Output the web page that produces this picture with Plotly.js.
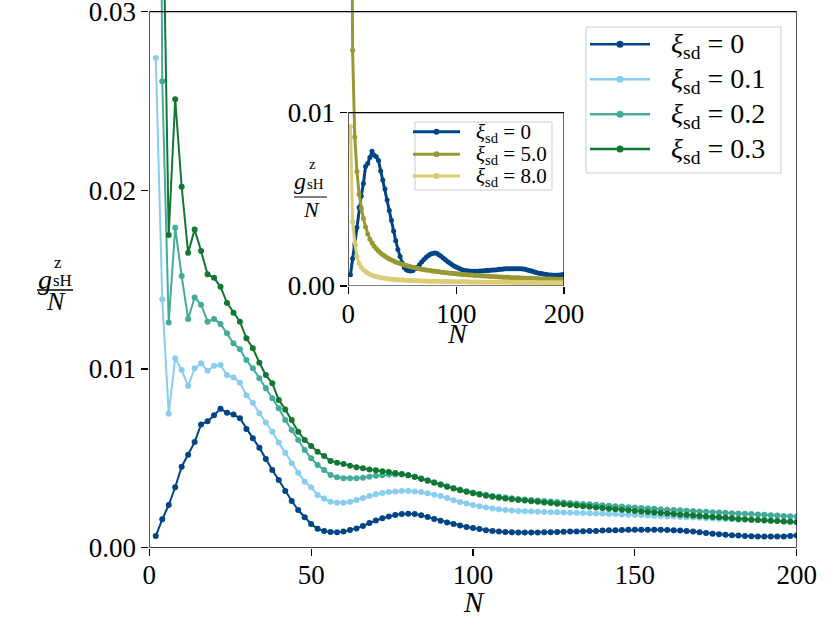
<!DOCTYPE html>
<html>
<head>
<meta charset="utf-8">
<script src="https://cdn.plot.ly/plotly-3.0.1.min.js"></script>
<style>body{margin:0;background:#fff}</style>
</head>
<body>
<div id="chart" style="width:830px;height:623px"></div>
<script>
var W = 830, H = 623;

var N = [2,4,6,8,10,12,14,16,18,20,
	22,24,26,28,30,32,34,36,38,40,
	42,44,46,48,50,52,54,56,58,60,
	62,64,66,68,70,72,74,76,78,80,
	82,84,86,88,90,92,94,96,98,100,
	102,104,106,108,110,112,114,116,118,120,
	122,124,126,128,130,132,134,136,138,140,
	142,144,146,148,150,152,154,156,158,160,
	162,164,166,168,170,172,174,176,178,180,
	182,184,186,188,190,192,194,196,198,200];

var xi0 = [0.00065,0.00159,0.00239,0.00338,0.00453,0.0052,0.00591,0.0069,0.00707,0.00741,
	0.00778,0.00755,0.00746,0.00724,0.00664,0.00612,0.0056,0.00496,0.00435,0.00379,
	0.00317,0.00261,0.00211,0.0017,0.00133,0.00106,0.00093,0.00088,0.00086,0.0009,
	0.00099,0.00108,0.00122,0.00138,0.00152,0.00165,0.00175,0.00183,0.00188,0.0019,
	0.00189,0.00181,0.00172,0.00161,0.00151,0.00141,0.00132,0.00124,0.00116,0.0011,
	0.00104,0.00098,0.00093,0.0009,0.00088,0.00086,0.00085,0.00085,0.00085,0.00085,
	0.00086,0.00087,0.00088,0.00089,0.0009,0.00091,0.00092,0.00093,0.00094,0.00096,
	0.00097,0.00098,0.00099,0.001,0.001,0.001,0.001,0.001,0.001,0.00099,
	0.00098,0.00096,0.00093,0.0009,0.00086,0.00082,0.00078,0.00075,0.00072,0.0007,
	0.00068,0.00066,0.00064,0.00063,0.00062,0.00062,0.00062,0.00063,0.00065,0.00068];

var xi1 = [0.0274,0.0139,0.0075,0.0106,0.00994,0.00905,0.01004,0.01032,0.0099,0.01018,
	0.01022,0.00966,0.00953,0.00923,0.00853,0.00811,0.00752,0.007,0.00649,0.00588,
	0.00532,0.00472,0.0042,0.00369,0.00338,0.00295,0.00276,0.00257,0.00252,0.00252,
	0.00257,0.00267,0.00278,0.0029,0.00299,0.00306,0.00312,0.00315,0.00317,0.00317,
	0.00315,0.00311,0.00305,0.00297,0.00289,0.00278,0.00266,0.00256,0.00247,0.00239,
	0.00232,0.00225,0.0022,0.00215,0.00211,0.00208,0.00206,0.00204,0.00202,0.00201,
	0.002,0.00199,0.00198,0.00197,0.00196,0.00195,0.00194,0.00193,0.00192,0.00191,
	0.00189,0.00188,0.00186,0.00185,0.00183,0.00182,0.0018,0.00179,0.00177,0.00175,
	0.00174,0.00172,0.0017,0.00169,0.00167,0.00165,0.00164,0.00162,0.0016,0.00159,
	0.00157,0.00156,0.00154,0.00153,0.00151,0.0015,0.00149,0.00147,0.00146,0.00145];

var xi2 = [0.085,0.0261,0.0126,0.0179,0.0152,0.0128,0.014,0.0136,0.01265,0.0128,
	0.01252,0.012,0.01144,0.0111,0.0105,0.01004,0.00948,0.00892,0.00836,0.0078,
	0.00715,0.00659,0.00603,0.00547,0.005,0.00463,0.00435,0.00407,0.00394,0.00389,
	0.00388,0.00389,0.00392,0.00397,0.00402,0.00406,0.00409,0.0041,0.00409,0.00405,
	0.00398,0.00388,0.00377,0.00366,0.00355,0.00344,0.00334,0.00325,0.00316,0.00309,
	0.00302,0.00296,0.0029,0.00285,0.00281,0.00277,0.00273,0.0027,0.00267,0.00264,
	0.00261,0.00258,0.00256,0.00253,0.0025,0.00248,0.00245,0.00243,0.0024,0.00238,
	0.00235,0.00232,0.0023,0.00227,0.00225,0.00222,0.0022,0.00218,0.00215,0.00213,
	0.00211,0.00209,0.00207,0.00205,0.00203,0.00201,0.00199,0.00197,0.00195,0.00193,
	0.00191,0.0019,0.00188,0.00186,0.00184,0.00182,0.0018,0.00178,0.00176,0.00174];

var xi3 = [0.06,0.038,0.0175,0.0251,0.0202,0.0165,0.0178,0.0166,0.0153,0.0151,
	0.0146,0.0137,0.01315,0.01265,0.01172,0.01116,0.01035,0.00966,0.0092,0.00827,
	0.00774,0.00715,0.00649,0.00603,0.00569,0.00537,0.00513,0.00485,0.00476,0.00468,
	0.00458,0.0045,0.00444,0.00438,0.00433,0.00428,0.00423,0.00418,0.00413,0.00406,
	0.00396,0.00385,0.00374,0.00363,0.00352,0.00341,0.00331,0.00322,0.00313,0.00305,
	0.00298,0.00291,0.00285,0.0028,0.00275,0.00271,0.00267,0.00264,0.0026,0.00257,
	0.00253,0.0025,0.00246,0.00243,0.00239,0.00236,0.00232,0.00229,0.00225,0.00222,
	0.00218,0.00215,0.00212,0.00209,0.00206,0.00203,0.002,0.00197,0.00194,0.00191,
	0.00188,0.00185,0.00183,0.0018,0.00177,0.00175,0.00172,0.0017,0.00168,0.00165,
	0.00161,0.00159,0.00157,0.00155,0.00153,0.00151,0.00149,0.00147,0.00145,0.00143];

var xi5 = [0.04,0.0136,0.0086,0.0066,0.0053,0.0045,0.0039,0.0034,0.003,0.0027,
	0.00248,0.0023,0.00215,0.00202,0.0019,0.0018,0.00171,0.00163,0.00156,0.0015,
	0.00144,0.00139,0.00134,0.0013,0.00125,0.00121,0.00118,0.00114,0.00111,0.00108,
	0.00105,0.00102,0.001,0.00097,0.00095,0.00093,0.00091,0.00089,0.00087,0.00085,
	0.00083,0.00082,0.0008,0.00079,0.00077,0.00076,0.00074,0.00073,0.00072,0.0007,
	0.00069,0.00068,0.00067,0.00066,0.00065,0.00064,0.00063,0.00062,0.00061,0.0006,
	0.00059,0.00058,0.00058,0.00057,0.00056,0.00055,0.00055,0.00054,0.00053,0.00052,
	0.00052,0.00051,0.0005,0.0005,0.00049,0.00048,0.00048,0.00047,0.00047,0.00046,
	0.00046,0.00045,0.00045,0.00044,0.00044,0.00043,0.00043,0.00042,0.00042,0.00041,
	0.00041,0.00041,0.0004,0.0004,0.0004,0.00039,0.00039,0.00039,0.00038,0.00038];

var xi8 = [0.0092,0.0037,0.0025,0.0017,0.0013,0.00108,0.00094,0.00083,0.00075,0.00068,
	0.00062,0.00058,0.00054,0.00051,0.00048,0.00046,0.00044,0.00042,0.0004,0.00039,
	0.00038,0.00037,0.00036,0.00035,0.00034,0.00034,0.00033,0.00032,0.00032,0.00031,
	0.00031,0.0003,0.0003,0.00029,0.00029,0.00029,0.00028,0.00028,0.00028,0.00027,
	0.00027,0.00027,0.00026,0.00026,0.00026,0.00026,0.00025,0.00025,0.00025,0.00025,
	0.00024,0.00024,0.00024,0.00024,0.00024,0.00023,0.00023,0.00023,0.00023,0.00023,
	0.00023,0.00022,0.00022,0.00022,0.00022,0.00022,0.00022,0.00022,0.00021,0.00021,
	0.00021,0.00021,0.00021,0.00021,0.00021,0.00021,0.0002,0.0002,0.0002,0.0002,
	0.0002,0.0002,0.0002,0.0002,0.0002,0.0002,0.0002,0.00019,0.00019,0.00019,
	0.00019,0.00019,0.00019,0.00019,0.00019,0.00019,0.00019,0.00019,0.00019,0.00019];

var mainLabels = ['0', '0.1', '0.2', '0.3'];
var mainColors = ['#004488', '#88CCEE', '#44AA99', '#117733'];
var insetLabels = ['0', '5.0', '8.0'];
var insetColors = ['#004488', '#999933', '#DDCC77'];
var xTicksMain = [0, 50, 100, 150, 200];
var yTicksMain = [0, 0.01, 0.02, 0.03];
var xTicksInset = [0, 100, 200];
var yTicksInset = [0, 0.01];

var FONT = 'Liberation Serif, DejaVu Serif, serif';

// pixel -> paper
function fx(p){ return p / W; }
function fy(p){ return 1 - p / H; }

function xiName(v){
	return '<i>ξ</i><sub>sd</sub> = ' + v;
}

function series(y, color, name, inset){
	return {
		type: 'scatter',
		mode: 'lines+markers',
		x: N,
		y: y,
		name: xiName(name),
		xaxis: inset ? 'x2' : 'x',
		yaxis: inset ? 'y2' : 'y',
		line: {color: color, width: inset ? 3 : 2},
		marker: {color: color, size: inset ? 5 : 6},
		hoverinfo: 'skip'
	};
}

var data = [
	series(xi0, mainColors[0], mainLabels[0], false),
	series(xi1, mainColors[1], mainLabels[1], false),
	series(xi2, mainColors[2], mainLabels[2], false),
	series(xi3, mainColors[3], mainLabels[3], false),
	series(xi0, insetColors[0], insetLabels[0], true),
	series(xi5, insetColors[1], insetLabels[1], true),
	series(xi8, insetColors[2], insetLabels[2], true)
];

function axis(dom, range, ticks, anchor, fmt, standoff){
	var a = {
		domain: dom,
		range: range,
		tickvals: ticks,
		ticks: 'outside',
		ticklen: 7,
		tickwidth: 1.2,
		tickcolor: '#000',
		showgrid: false,
		zeroline: false,
		showline: false,
		anchor: anchor,
		fixedrange: true,
		ticklabeloverflow: 'allow',
		ticklabelstandoff: standoff || 0,
		tickfont: {family: FONT, size: 27, color: '#000'}
	};
	if(fmt) a.tickformat = fmt;
	return a;
}

function label(text, x, y, size, anchor){
	return {
		text: text, xref: 'paper', yref: 'paper',
		x: fx(x), y: fy(y), showarrow: false,
		xanchor: anchor || 'center', yanchor: 'middle',
		font: {family: FONT, size: size, color: '#000'}
	};
}

var annotations = [
	label('<i>N</i>', 474, 602, 29),
	label('<i>N</i>', 457, 333, 28),
	label('<i>g</i>', 45, 279, 28),
	label('z', 52, 262, 17, 'left'),
	label('sH', 51, 280, 17, 'left'),
	label('<i>N</i>', 56, 302, 26),
	label('<i>g</i>', 300, 181, 24),
	label('z', 307, 164, 15, 'left'),
	label('sH', 305, 184, 15, 'left'),
	label('<i>N</i>', 311, 210, 22)
];

var shapes = [
	{type: 'rect', xref: 'x', yref: 'y', x0: 0, x1: 200, y0: 0, y1: 0.03,
		line: {color: '#000', width: 1.3}, layer: 'above'},
	{type: 'rect', xref: 'x2', yref: 'y2', x0: 0, x1: 200, y0: 0, y1: 0.01,
		line: {color: '#000', width: 1.2}, layer: 'above'},
	{type: 'line', xref: 'paper', yref: 'paper', x0: fx(37), x1: fx(73), y0: fy(290), y1: fy(290),
		line: {color: '#000', width: 1.3}},
	{type: 'line', xref: 'paper', yref: 'paper', x0: fx(294), x1: fx(327), y0: fy(197), y1: fy(197),
		line: {color: '#000', width: 1.2}}
];

// legend drawn by hand: box, sample line, marker dot, text
function legend(box, rows, lineX, textX, colors, labels, lw, r, size){
	shapes.push({type: 'rect', xref: 'paper', yref: 'paper',
		x0: fx(box[0]), x1: fx(box[2]), y0: fy(box[3]), y1: fy(box[1]),
		fillcolor: 'rgba(255,255,255,0.8)', line: {color: '#cccccc', width: 1}, layer: 'above'});
	for(var i = 0; i < labels.length; i++){
		var y = rows[i];
		var cx = (lineX[0] + lineX[1]) / 2;
		shapes.push({type: 'line', xref: 'paper', yref: 'paper',
			x0: fx(lineX[0]), x1: fx(lineX[1]), y0: fy(y), y1: fy(y),
			line: {color: colors[i], width: lw}, layer: 'above'});
		shapes.push({type: 'circle', xref: 'paper', yref: 'paper',
			x0: fx(cx - r), x1: fx(cx + r), y0: fy(y + r), y1: fy(y - r),
			fillcolor: colors[i], line: {width: 0}, layer: 'above'});
		annotations.push(label(xiName(labels[i]), textX, y + 1, size, 'left'));
	}
}

legend([586, 27, 781, 173], [44.3, 79.3, 114.3, 149], [590, 650], 669,
	mainColors, mainLabels, 2.5, 3.5, 28);
legend([415, 122, 552, 190], [131.7, 154.3, 176], [413, 460], 474,
	insetColors, insetLabels, 3, 3, 21);

var layout = {
	width: W,
	height: H,
	margin: {l: 0, r: 0, t: 0, b: 0, pad: 0},
	paper_bgcolor: '#fff',
	plot_bgcolor: 'rgba(0,0,0,0)',
	showlegend: false,
	xaxis: axis([fx(149.3), fx(796.7)], [0, 200], xTicksMain, 'y', null, -4),
	yaxis: axis([fy(547.7), 1], [0, 547.7 * 0.01 / 178.7], yTicksMain, 'x', '.2f'),
	xaxis2: axis([fx(348.3), fx(564)], [0, 200], xTicksInset, 'y2', null, -3),
	yaxis2: axis([fy(286), 1], [0, 286 * 0.01 / 173.3], yTicksInset, 'x2', '.2f'),
	annotations: annotations,
	shapes: shapes
};

Plotly.newPlot('chart', data, layout, {displayModeBar: false, staticPlot: true});
</script>
</body>
</html>
